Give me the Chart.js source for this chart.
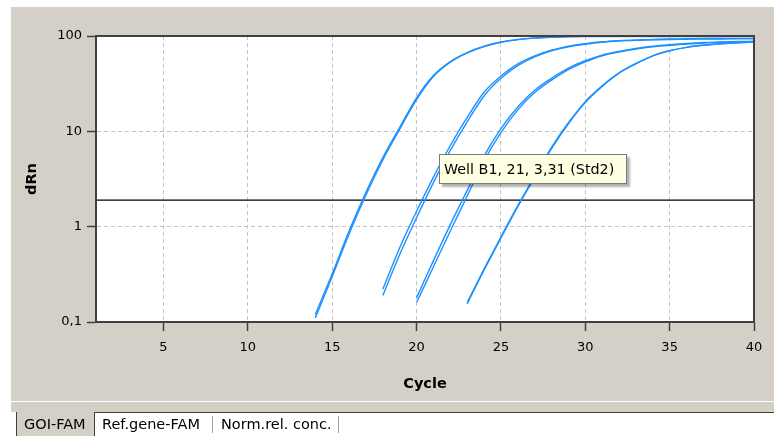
<!DOCTYPE html>
<html>
<head>
<meta charset="utf-8">
<script src="https://cdn.jsdelivr.net/npm/chart.js@4"></script>
<style>
  body { margin: 0; background: #fff; font-family: 'DejaVu Sans', sans-serif; }
  #panel { position: absolute; left: 11px; top: 7px; width: 763px; height: 405px; background: #d4d0c8; }
  #panel .hl { position: absolute; left: 0; right: 0; top: 394px; height: 1px; background: #fff; }
  #chart { position: absolute; left: 0; top: 0; }
  #tip {
    position: absolute; left: 439px; top: 154px; width: 182px; height: 28px;
    background: #ffffe1; border: 1px solid #7a7a7a; box-shadow: 3px 3px 2px rgba(0,0,0,0.3);
    font-size: 14.3px; line-height: 28px; padding-left: 4px; color: #000; white-space: nowrap;
  }
  #tabs { position: absolute; left: 0; top: 412px; width: 774px; height: 24px; font-size: 14.5px; color: #000; }
  #tabs .line { position: absolute; left: 95px; right: 0; top: 0; height: 1px; background: #404040; }
  #tabs .lbar { position: absolute; left: 16px; top: 0; width: 1px; height: 24px; background: #404040; }
  #tabs .tab { position: absolute; top: 0; height: 24px; line-height: 24px; white-space: nowrap; }
  #tabs .sel { left: 17px; width: 78px; background: #d4d0c8; border-right: 1px solid #404040; padding-left: 7px; box-sizing: border-box; }
  #tabs .sep { position: absolute; top: 4px; width: 1px; height: 17px; background: #a0a0a0; }
</style>
</head>
<body>
<div id="panel"><div class="hl"></div></div>
<canvas id="chart" width="774" height="436"></canvas>
<div id="tip">Well B1, 21, 3,31 (Std2)</div>
<div id="tabs">
  <div class="line"></div>
  <div class="lbar"></div>
  <div class="tab sel">GOI-FAM</div>
  <div class="tab" style="left:102px">Ref.gene-FAM</div>
  <div class="sep" style="left:212px"></div>
  <div class="tab" style="left:221px">Norm.rel. conc.</div>
  <div class="sep" style="left:338px"></div>
</div>
<script>
// amplification curves, dRn per cycle (log scale)
const xTicks = [5, 10, 15, 20, 25, 30, 35, 40];
const yTicks = [0.1, 1, 10, 100];
const thresholdLevel = 1.9;

const std1Start = 14;
const std1A = [0.12, 0.32, 0.90, 2.3, 5.3, 11, 22.5, 38.5, 54, 67, 78, 86.5, 92, 95.5, 97.5, 98.5, 99, 99, 99, 99, 99, 99, 99, 99, 99, 99, 99];
const std1B = [0.11, 0.30, 0.84, 2.15, 5.0, 10.5, 21.5, 37.5, 53, 66.5, 77.5, 86, 91.5, 95, 97, 98, 98.5, 98.5, 98.5, 98.5, 98.5, 98.5, 98.5, 98.5, 98.5, 98.5, 98.5];

const std2Start = 18;
const std2A = [0.22, 0.60, 1.45, 3.31, 7.1, 14, 25.7, 38, 51, 62, 71, 78, 83, 87, 89.5, 91, 92, 93, 93.5, 94, 94, 94.5, 94.5];
const std2B = [0.19, 0.51, 1.24, 2.9, 6.3, 12.6, 23.5, 36, 49, 60.5, 70, 77, 82, 86, 88.5, 90, 91, 92, 92.5, 93, 93, 93.5, 93.5];

const std3Start = 20;
const std3A = [0.18, 0.44, 1.05, 2.4, 5.5, 10.7, 18, 27, 36, 46, 55, 63, 69, 74, 78, 81, 83.5, 85.5, 86.5, 87.5, 88];
const std3B = [0.16, 0.38, 0.90, 2.1, 4.9, 9.7, 16.8, 25.5, 34.5, 44.5, 53.5, 62, 68, 73, 77, 80, 82.5, 84.5, 85.5, 86.5, 87];

const std4Start = 23;
const std4A = [0.155, 0.35, 0.76, 1.62, 3.3, 6.6, 12, 20, 29.5, 40.7, 51, 62, 70, 76, 80, 83, 85, 86];
const std4B = [0.16, 0.36, 0.78, 1.66, 3.4, 6.8, 12.3, 20.5, 30, 41, 51.5, 62, 70, 76, 80, 83, 85, 86];

const CURVE_COLOR = '#1e90ff';
const AXIS_COLOR = '#404040';
const GRID_COLOR = '#c4c4c4';

Chart.defaults.font.family = "'DejaVu Sans', sans-serif";
Chart.defaults.color = '#000';

const CurveChart = {
    chart: null,

    init() {
        const ctx = document.getElementById('chart').getContext('2d');
        this.chart = new Chart(ctx, {
            type: 'line',
            data: { datasets: this.buildDatasets() },
            options: this.buildOptions(),
            plugins: [this.plotFrame]
        });
    },

    curve(start, values) {
        return {
            data: values.map((v, i) => ({ x: start + i, y: v })),
            borderColor: CURVE_COLOR,
            borderWidth: 1.4,
            pointRadius: 0,
            fill: false,
            cubicInterpolationMode: 'monotone'
        };
    },

    buildDatasets() {
        const sets = [
            this.curve(std1Start, std1A), this.curve(std1Start, std1B),
            this.curve(std2Start, std2A), this.curve(std2Start, std2B),
            this.curve(std3Start, std3A), this.curve(std3Start, std3B),
            this.curve(std4Start, std4A), this.curve(std4Start, std4B)
        ];
        // threshold line across the whole cycle range
        sets.push({
            data: [{ x: 1, y: thresholdLevel }, { x: 40, y: thresholdLevel }],
            borderColor: '#000',
            borderWidth: 1.3,
            pointRadius: 0
        });
        return sets;
    },

    buildOptions() {
        return {
            responsive: false,
            animation: false,
            layout: { padding: { left: 11, top: 36, right: 20, bottom: 34 } },
            plugins: { legend: { display: false }, tooltip: { enabled: false } },
            scales: {
                x: {
                    type: 'linear',
                    min: 1,
                    max: 40,
                    afterFit: (s) => { s.height = 80; },
                    afterBuildTicks: (s) => { s.ticks = xTicks.map(v => ({ value: v })); },
                    grid: {
                        color: GRID_COLOR, tickColor: AXIS_COLOR, tickLength: 9, tickWidth: 1.5,
                        tickBorderDash: []
                    },
                    border: { color: AXIS_COLOR, width: 2, dash: [4, 3] },
                    ticks: { font: { size: 13 }, padding: 8.7, maxRotation: 0 },
                    title: { display: true, text: 'Cycle', font: { size: 14.5, weight: 'bold' }, padding: { top: 0, bottom: 9.3 } }
                },
                y: {
                    type: 'logarithmic',
                    min: 0.1,
                    max: 100,
                    afterFit: (s) => { s.width = 85; },
                    afterBuildTicks: (s) => { s.ticks = yTicks.map(v => ({ value: v })); },
                    grid: {
                        color: GRID_COLOR, tickColor: AXIS_COLOR, tickLength: 9, tickWidth: 1.5,
                        tickBorderDash: []
                    },
                    border: { color: AXIS_COLOR, width: 2, dash: [4, 3] },
                    ticks: {
                        font: { size: 13 },
                        padding: 5,
                        callback: (v) => String(v).replace('.', ',')
                    },
                    title: { display: true, text: 'dRn', font: { size: 14.5, weight: 'bold' }, padding: { top: 12.3, bottom: 0 } }
                }
            }
        };
    },

    // white plot area and the dark frame round it
    plotFrame: {
        id: 'plotFrame',
        beforeDraw(chart) {
            const { ctx, chartArea: a } = chart;
            ctx.save();
            ctx.fillStyle = '#fff';
            ctx.fillRect(a.left, a.top, a.width, a.height);
            ctx.restore();
        },
        afterDatasetsDraw(chart) {
            const { ctx, chartArea: a } = chart;
            ctx.save();
            ctx.strokeStyle = AXIS_COLOR;
            ctx.lineWidth = 2;
            ctx.strokeRect(a.left, a.top, a.width, a.height);
            ctx.restore();
        }
    }
};

CurveChart.init();
</script>
</body>
</html>
